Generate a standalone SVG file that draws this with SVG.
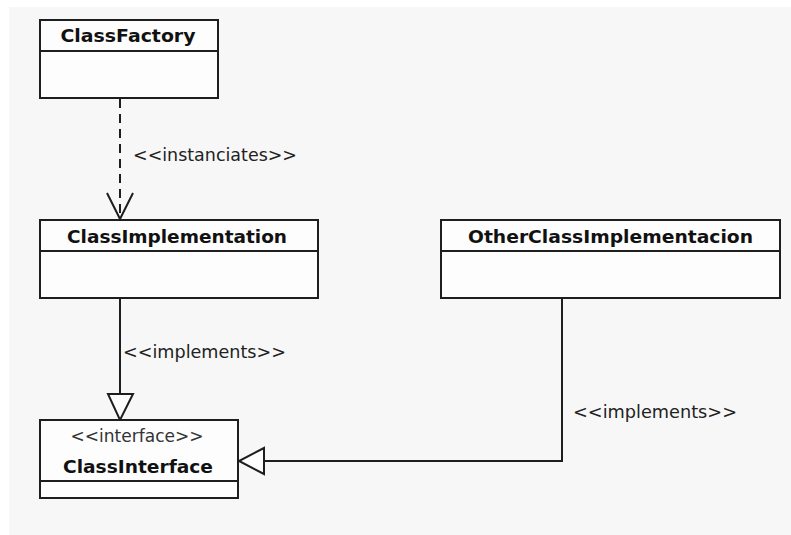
<svg xmlns="http://www.w3.org/2000/svg" width="791" height="535" viewBox="0 0 791 535">
  <style>
    .box { fill: #fdfdfd; stroke: #1e1e1e; stroke-width: 2; }
    .sep { stroke: #1e1e1e; stroke-width: 2; fill: none; }
    .name { font-family: "DejaVu Sans", Verdana, sans-serif; font-weight: bold; font-size: 18px; fill: #111; text-anchor: middle; }
    .lbl { font-family: "DejaVu Sans", Verdana, sans-serif; font-size: 17px; fill: #222; }
    .stereo { font-family: "DejaVu Sans", Verdana, sans-serif; font-size: 17px; fill: #333; text-anchor: middle; }
    .edge { stroke: #1e1e1e; stroke-width: 2; fill: none; }
    .dash { stroke-dasharray: 9 6; }
    .tri { fill: #fdfdfd; stroke: #1e1e1e; stroke-width: 2; stroke-linejoin: miter; }
  </style>

  <!-- canvas -->
  <rect x="0" y="0" width="791" height="535" fill="#ffffff"/>
  <rect x="9" y="7" width="782" height="528" fill="#f7f7f7"/>

  <!-- connectors -->
  <g id="connectors">
    <!-- ClassFactory to ClassImplementation: dependency -->
    <line class="edge dash" x1="120" y1="99" x2="120" y2="219"/>
    <polyline class="edge" points="107,193 120,219 133,193"/>
    <text class="lbl" x="133" y="161" textLength="164" lengthAdjust="spacingAndGlyphs">&lt;&lt;instanciates&gt;&gt;</text>

    <!-- ClassImplementation to ClassInterface: realization -->
    <line class="edge" x1="120" y1="298" x2="120" y2="394"/>
    <polygon class="tri" points="108,394 133,394 120,420"/>
    <text class="lbl" x="123" y="358" textLength="163" lengthAdjust="spacingAndGlyphs">&lt;&lt;implements&gt;&gt;</text>

    <!-- OtherClassImplementacion to ClassInterface: realization -->
    <polyline class="edge" points="562,298 562,461 264,461"/>
    <polygon class="tri" points="264,448 264,474 239,461"/>
    <text class="lbl" x="573" y="418" textLength="164" lengthAdjust="spacingAndGlyphs">&lt;&lt;implements&gt;&gt;</text>
  </g>

  <g id="ClassFactory">
    <rect class="box" x="40" y="20" width="178" height="78"/>
    <line class="sep" x1="40" y1="51" x2="218" y2="51"/>
    <text class="name" x="128" y="42" textLength="135" lengthAdjust="spacingAndGlyphs">ClassFactory</text>
  </g>

  <g id="ClassImplementation">
    <rect class="box" x="40" y="220" width="278" height="78"/>
    <line class="sep" x1="40" y1="251" x2="318" y2="251"/>
    <text class="name" x="177" y="243" textLength="220" lengthAdjust="spacingAndGlyphs">ClassImplementation</text>
  </g>

  <g id="OtherClassImplementacion">
    <rect class="box" x="441" y="220" width="339" height="78"/>
    <line class="sep" x1="441" y1="251" x2="780" y2="251"/>
    <text class="name" x="610.5" y="243" textLength="285" lengthAdjust="spacingAndGlyphs">OtherClassImplementacion</text>
  </g>

  <g id="ClassInterface">
    <rect class="box" x="40" y="420" width="198" height="78"/>
    <line class="sep" x1="40" y1="481" x2="238" y2="481"/>
    <text class="stereo" x="137" y="442" textLength="133" lengthAdjust="spacingAndGlyphs">&lt;&lt;interface&gt;&gt;</text>
    <text class="name" x="138" y="473" textLength="150" lengthAdjust="spacingAndGlyphs">ClassInterface</text>
  </g>
</svg>
